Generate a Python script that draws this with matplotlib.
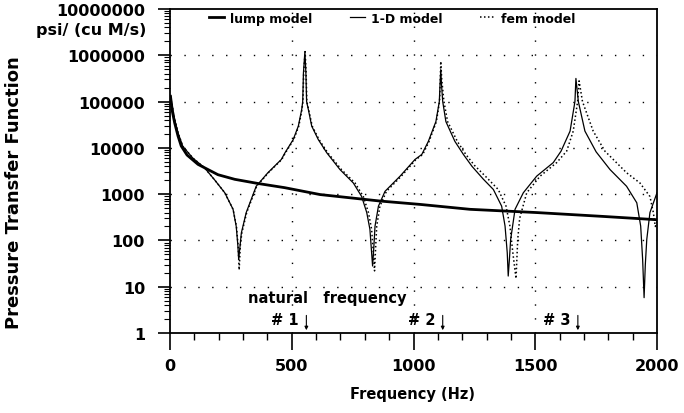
import matplotlib
matplotlib.use("Agg")
import matplotlib.pyplot as plt
from matplotlib.ticker import FixedLocator, LogLocator, NullFormatter

# frequency (Hz) / pressure transfer function
lump_f = [2, 10, 19, 33, 46, 70, 115, 197, 266, 361, 471, 616, 862, 1027,
          1232, 1506, 1779, 2000]
lump_y = [130000, 60000, 35000, 18000, 11000, 7000, 4400, 2630, 2090, 1700,
          1380, 980, 710, 600, 470, 400, 330, 280]

oned_f = [2, 19, 33, 53, 94, 142, 183, 225, 259, 272, 279, 282, 287, 293, 313,
          354, 402, 457, 472, 506, 527, 541, 545, 548, 554, 558, 561, 568, 582,
          609, 644, 698, 753, 787, 808, 821, 828, 832, 837, 842, 856, 883, 945,
          1006, 1034, 1061, 1092, 1106, 1109, 1112, 1115, 1120, 1133, 1170,
          1205, 1240, 1287, 1328, 1362, 1376, 1385, 1389, 1394, 1399, 1417,
          1451, 1506, 1574, 1606, 1643, 1663, 1667, 1677, 1704, 1750, 1807,
          1875, 1917, 1933, 1941, 1947, 1952, 1958, 1971, 2000]
oned_y = [130000, 41000, 21000, 10700, 6000, 3700, 2040, 1070, 470, 200, 74,
          39, 70, 145, 400, 1480, 2900, 5600, 7800, 15100, 29500, 68000,
          100000, 415000, 1200000, 415000, 100000, 68000, 29500, 15100, 7800,
          3400, 1740, 890, 400, 174, 54, 28, 70, 204, 550, 1150, 2450, 5600,
          7200, 13800, 37000, 100000, 233000, 490000, 233000, 100000, 37000,
          13800, 7200, 4000, 2100, 1260, 550, 204, 54, 17, 40, 105, 470, 1070,
          2450, 4800, 8500, 23000, 100000, 316000, 100000, 23000, 8200, 3400,
          1480, 650, 204, 39, 5.8, 30, 105, 400, 1070]

fem_f = [2, 19, 33, 53, 94, 142, 183, 225, 259, 273, 280, 284, 289, 295, 315,
         356, 404, 459, 474, 508, 529, 542, 546, 549, 555, 559, 562, 569, 584,
         612, 648, 704, 760, 794, 815, 828, 835, 840, 845, 849, 862, 889, 950,
         1010, 1038, 1064, 1094, 1107, 1110, 1112, 1116, 1125, 1140, 1180,
         1215, 1250, 1300, 1348, 1380, 1396, 1408, 1421, 1428, 1436, 1465,
         1520, 1588, 1629, 1656, 1674, 1680, 1694, 1738, 1786, 1807, 1875,
         1930, 1971, 1985, 1993, 2000]
fem_y = [130000, 41000, 21000, 10700, 6000, 3700, 2040, 1070, 470, 200, 74,
         23, 80, 145, 400, 1480, 2900, 5600, 7800, 15100, 29500, 68000,
         100000, 415000, 1200000, 415000, 100000, 68000, 29500, 15100, 7800,
         3400, 1740, 890, 400, 174, 54, 22, 80, 204, 550, 1150, 2450, 5600,
         7200, 13800, 37000, 100000, 300000, 740000, 300000, 100000, 37000,
         13800, 7200, 4200, 2300, 1260, 550, 204, 54, 15, 105, 300, 1070,
         2450, 4800, 8500, 23000, 100000, 280000, 100000, 23000, 8500, 6600,
         2900, 1740, 890, 400, 200, 250]

nat_freq = [560, 1120, 1675]
nat_labels = ["# 1", "# 2", "# 3"]
y_ticks = [1, 10, 100, 1000, 10000, 100000, 1000000, 10000000]
x_ticks = [0, 500, 1000, 1500, 2000]

FONT = "DejaVu Sans"
INK = "black"

fig = plt.figure(figsize=(6.84, 4.14), dpi=100)
ax = fig.add_axes([170 / 684, 1 - 334 / 414, 487 / 684, 324 / 414])

ax.plot(lump_f, lump_y, color=INK, lw=2.0, label="lump model", zorder=3)
ax.plot(oned_f, oned_y, color=INK, lw=0.9, label="1-D model", zorder=4)
ax.plot(fem_f, fem_y, color=INK, lw=1.1, ls=(0, (1, 1.6)), label="fem model",
        zorder=4)

ax.set_yscale("log")
ax.set_xlim(0, 2000)
ax.set_ylim(1, 10000000)

ax.xaxis.set_major_locator(FixedLocator(x_ticks))
ax.xaxis.set_minor_locator(FixedLocator(list(range(0, 2001, 100))))
ax.set_xticklabels([str(t) for t in x_ticks])
ax.yaxis.set_major_locator(FixedLocator(y_ticks))
ax.yaxis.set_minor_locator(LogLocator(base=10, subs=range(2, 10), numticks=20))
ax.yaxis.set_minor_formatter(NullFormatter())
ax.set_yticklabels([str(t) for t in y_ticks])

ax.tick_params(axis="x", which="major", direction="out", length=12, width=1.2,
               pad=6)
ax.tick_params(axis="x", which="minor", direction="out", length=5, width=1.0)
ax.tick_params(axis="y", which="major", direction="out", length=9, width=1.2,
               pad=9)
ax.tick_params(axis="y", which="minor", direction="out", length=4, width=0.8)
for lab in ax.get_xticklabels() + ax.get_yticklabels():
    lab.set_fontfamily(FONT)
    lab.set_fontweight("bold")
    lab.set_fontsize(11.5)

for s in ax.spines.values():
    s.set_linewidth(1.3)

# sparse dotted grid
for t in y_ticks[1:-1]:
    ax.axhline(t, color=INK, lw=1.0, ls=(0, (1, 9)), zorder=1)
for t in x_ticks[1:-1]:
    ax.axvline(t, color=INK, lw=1.0, ls=(0, (1, 9)), zorder=1)

fig.text(146 / 684, 1 - 30 / 414, "psi/ (cu M/s)", ha="right", va="center",
         fontsize=11.5, fontweight="bold", family=FONT)
fig.text(14 / 684, 1 - 193 / 414, "Pressure Transfer Function", rotation=90,
         ha="center", va="center", fontsize=13, fontweight="bold",
         family=FONT)
fig.text(413 / 684, 1 - 395 / 414, "Frequency (Hz)", ha="center",
         va="center", fontsize=10.5, fontweight="bold", family=FONT)

ax.legend(loc="center left", bbox_to_anchor=(0.08, 0.972), ncol=3,
          frameon=False, handlelength=1.2, handletextpad=0.5,
          columnspacing=3.0, borderpad=0, borderaxespad=0,
          prop={"family": FONT, "weight": "bold", "size": 9})

ax.text(320, 5.9, "natural   frequency", ha="left", va="center",
        fontsize=10.5, fontweight="bold", family=FONT)
for f, lab in zip(nat_freq, nat_labels):
    ax.text(f - 30, 2.0, lab, ha="right", va="center", fontsize=10.5,
            fontweight="bold", family=FONT)
    ax.annotate("", xy=(f, 1.15), xytext=(f, 2.4),
                arrowprops=dict(arrowstyle="-|>", lw=0.8, color=INK,
                                mutation_scale=5, shrinkA=0, shrinkB=0))

fig.savefig("out.png", dpi=100)
